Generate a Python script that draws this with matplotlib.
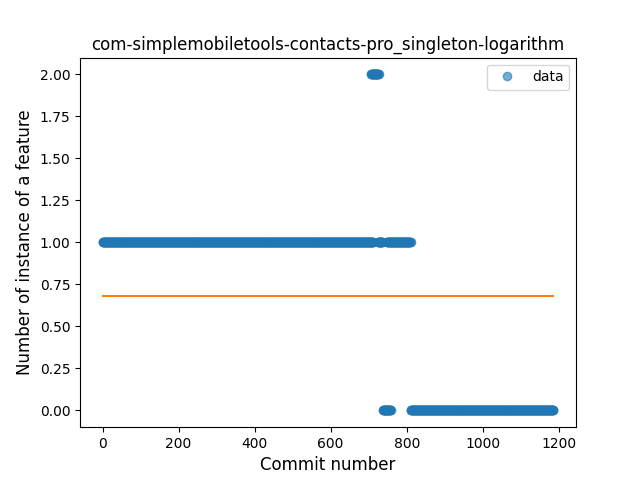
import numpy as np
import matplotlib
matplotlib.use("Agg")
import matplotlib.pyplot as plt

# runs of (first commit, last commit, feature count)
run_start = [0, 706, 724, 737, 748, 810]
run_end = [712, 726, 736, 758, 810, 1186]
run_value = [1, 2, 1, 0, 1, 0]

fit_x = [0, 1186]
fit_y = [0.68, 0.68]

title = "com-simplemobiletools-contacts-pro_singleton-logarithm"


def build_points(starts, ends, values):
    xs = []
    ys = []
    for s, e, v in zip(starts, ends, values):
        seg = np.arange(s, e + 1)
        xs.append(seg)
        ys.append(np.full(len(seg), v))
    return np.concatenate(xs), np.concatenate(ys)


x, y = build_points(run_start, run_end, run_value)

fig, ax = plt.subplots(figsize=(6.4, 4.8), dpi=100)
ax.plot(x, y, 'o', alpha=0.6, label='data')
ax.plot(fit_x, fit_y)
ax.set_title(title)
ax.set_xlabel('Commit number', fontsize=12)
ax.set_ylabel('Number of instance of a feature', fontsize=12)
ax.legend(loc='upper right')
fig.savefig('out.png')
